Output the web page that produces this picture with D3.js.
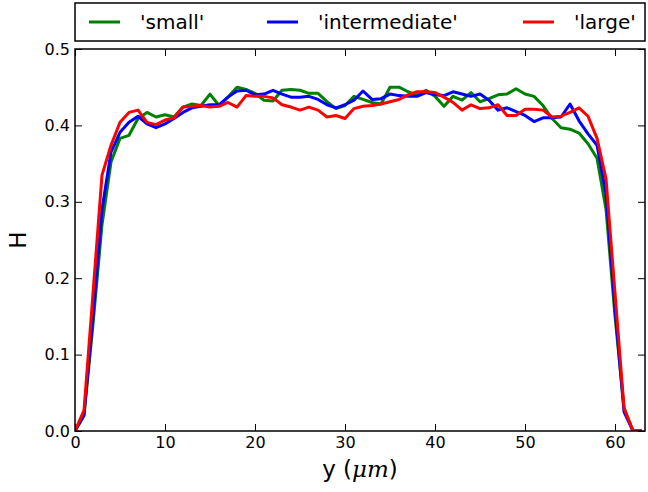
<!DOCTYPE html>
<html>
<head>
<meta charset="utf-8">
<script src="https://cdn.jsdelivr.net/npm/d3@7"></script>
<style>
  body { margin: 0; background: #fff; }
  svg text { font-family: "DejaVu Sans", sans-serif; fill: #000; }
</style>
</head>
<body>
<script>
// positions along the channel (um)
const yPos = [0,1,2,3,4,5,6,7,8,9,10,11,12,13,14,15,16,17,18,19,20,21,22,23,24,25,26,27,28,29,30,31,
  32,33,34,35,36,37,38,39,40,41,42,43,44,45,46,47,48,49,50,51,52,53,54,55,56,57,58,59,60,61,62,63];

// H profiles
const small = [0,0.02,0.14,0.27,0.352,0.383,0.387,0.409,0.417,0.411,0.414,0.411,0.424,0.428,0.426,0.441,
  0.426,0.437,0.450,0.447,0.442,0.433,0.432,0.446,0.447,0.446,0.442,0.442,0.431,0.422,0.426,0.438,
  0.434,0.430,0.428,0.450,0.450,0.444,0.440,0.446,0.438,0.425,0.438,0.433,0.443,0.431,0.435,0.440,
  0.441,0.448,0.441,0.438,0.426,0.409,0.397,0.395,0.390,0.376,0.357,0.29,0.15,0.03,0,0];
const intermediate = [0,0.021,0.15,0.29,0.365,0.391,0.404,0.412,0.402,0.397,0.402,0.409,0.417,0.423,0.425,0.427,
  0.427,0.437,0.445,0.446,0.440,0.441,0.446,0.441,0.437,0.437,0.438,0.434,0.427,0.423,0.427,0.433,
  0.445,0.434,0.435,0.441,0.439,0.438,0.438,0.443,0.440,0.439,0.444,0.441,0.438,0.441,0.433,0.420,
  0.423,0.418,0.413,0.405,0.410,0.410,0.411,0.428,0.406,0.389,0.374,0.31,0.16,0.025,0,0];
const large = [0,0.027,0.18,0.335,0.374,0.404,0.417,0.420,0.404,0.401,0.407,0.410,0.424,0.425,0.426,0.424,
  0.425,0.430,0.424,0.439,0.438,0.438,0.436,0.427,0.424,0.420,0.424,0.420,0.411,0.413,0.409,0.422,
  0.425,0.426,0.428,0.431,0.434,0.440,0.444,0.444,0.443,0.437,0.430,0.420,0.427,0.422,0.423,0.427,
  0.413,0.413,0.421,0.421,0.420,0.411,0.412,0.417,0.423,0.412,0.383,0.33,0.18,0.03,0,0];

const seriesNames = ["'small'", "'intermediate'", "'large'"];
const seriesColors = ["#008000", "#0000ff", "#ff0000"];
const seriesData = [small, intermediate, large];

const xTicks = [0,10,20,30,40,50,60];
const yTicks = [0,0.1,0.2,0.3,0.4,0.5];

const W = 648, H = 492;
const mLeft = 75, mRight = 645, mTop = 49, mBottom = 431;

const svg = d3.select("body").append("svg")
  .attr("width", W).attr("height", H);

const x = d3.scaleLinear().domain([0, 63.33]).range([mLeft, mRight]);
const y = d3.scaleLinear().domain([0, 0.5]).range([mBottom, mTop]);

// lines
const line = d3.line()
  .x(function (d, i) { return x(yPos[i]); })
  .y(function (d) { return y(d); });

const plot = svg.append("g");
plot.append("clipPath").attr("id", "clip")
  .append("rect").attr("x", mLeft).attr("y", mTop).attr("width", mRight - mLeft).attr("height", mBottom - mTop);

seriesData.forEach(function (s, k) {
  plot.append("path")
    .datum(s)
    .attr("clip-path", "url(#clip)")
    .attr("fill", "none")
    .attr("stroke", seriesColors[k])
    .attr("stroke-width", 3)
    .attr("stroke-linejoin", "round")
    .attr("d", line);
});

// axes, ticks point inward
const fmt = d3.format(".1f");
svg.append("g").attr("transform", "translate(0," + mBottom + ")")
  .call(d3.axisBottom(x).tickValues(xTicks).tickSize(-7).tickPadding(6).tickFormat(d3.format("d")))
  .call(g => g.select(".domain").remove());
svg.append("g").attr("transform", "translate(0," + mTop + ")")
  .call(d3.axisTop(x).tickValues(xTicks).tickSize(-7).tickFormat(""))
  .call(g => g.select(".domain").remove());
svg.append("g").attr("transform", "translate(" + mLeft + ",0)")
  .call(d3.axisLeft(y).tickValues(yTicks).tickSize(-7).tickPadding(5).tickFormat(fmt))
  .call(g => g.select(".domain").remove());
svg.append("g").attr("transform", "translate(" + mRight + ",0)")
  .call(d3.axisRight(y).tickValues(yTicks).tickSize(-7).tickFormat(""))
  .call(g => g.select(".domain").remove());

svg.selectAll(".tick line").attr("stroke", "#000").attr("stroke-width", 1);
svg.selectAll(".tick text")
  .style("font-family", "'DejaVu Sans', sans-serif")
  .style("font-size", "16px");

// frame
svg.append("rect")
  .attr("x", mLeft).attr("y", mTop)
  .attr("width", mRight - mLeft).attr("height", mBottom - mTop)
  .attr("fill", "none").attr("stroke", "#000").attr("stroke-width", 1.5);

// axis labels
const xl = svg.append("text")
  .attr("x", (mLeft + mRight) / 2).attr("y", 477)
  .attr("text-anchor", "middle")
  .style("font-size", "23px");
xl.append("tspan").text("y (");
xl.append("tspan").text("μm")
  .style("font-family", "'DejaVu Serif', serif").style("font-style", "italic");
xl.append("tspan").text(")");

svg.append("text")
  .attr("transform", "translate(26," + ((mTop + mBottom) / 2) + ") rotate(-90)")
  .attr("text-anchor", "middle")
  .style("font-size", "23px")
  .text("H");

// legend
const legend = svg.append("g");
legend.append("rect")
  .attr("x", mLeft).attr("y", 3)
  .attr("width", mRight - mLeft).attr("height", 38)
  .attr("fill", "#fff").attr("stroke", "#000").attr("stroke-width", 1.5);

const legX = [89, 267, 523];
seriesNames.forEach(function (name, k) {
  legend.append("line")
    .attr("x1", legX[k]).attr("x2", legX[k] + 31)
    .attr("y1", 22).attr("y2", 22)
    .attr("stroke", seriesColors[k]).attr("stroke-width", 3);
  legend.append("text")
    .attr("x", legX[k] + 51).attr("y", 29)
    .style("font-size", "20px")
    .text(name);
});
</script>
</body>
</html>
